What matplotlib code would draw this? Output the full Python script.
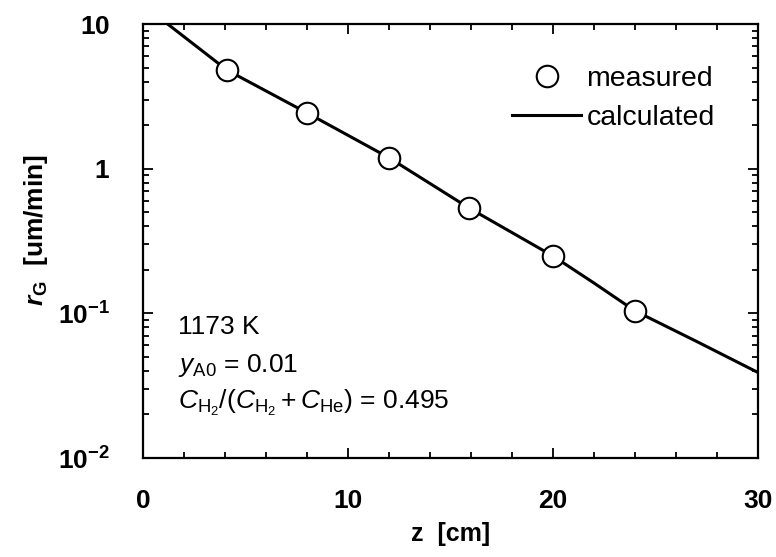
import matplotlib

matplotlib.use("Agg")
import matplotlib.pyplot as plt  # noqa: E402
from matplotlib.ticker import FixedLocator, FixedFormatter, LogLocator, NullFormatter, MultipleLocator  # noqa: E402

plt.rcParams["font.family"] = ["Liberation Sans", "DejaVu Sans"]
plt.rcParams["mathtext.fontset"] = "custom"
plt.rcParams["mathtext.rm"] = "Liberation Sans"
plt.rcParams["mathtext.it"] = "Liberation Sans:italic"
plt.rcParams["mathtext.bf"] = "Liberation Sans:bold"
plt.rcParams["mathtext.bfit"] = "Liberation Sans:bold:italic"

# measured growth rate along the reactor
z_meas = [4.1, 8.0, 12.0, 15.9, 20.0, 24.0]
rg_meas = [4.8, 2.43, 1.19, 0.535, 0.249, 0.104]

# calculated curve
z_calc = [1.2, 4.1, 8.0, 12.0, 15.9, 20.0, 22.0, 24.0, 27.0, 30.0]
rg_calc = [10.0, 4.8, 2.43, 1.19, 0.535, 0.249, 0.162, 0.104, 0.064, 0.039]

y_ticks = [0.01, 0.1, 1, 10]
y_ticklabels = [r"$\mathbf{10^{-2}}$", r"$\mathbf{10^{-1}}$", r"$\mathbf{1}$", r"$\mathbf{10}$"]
x_ticks = [0, 10, 20, 30]

fig = plt.figure(figsize=(7.76, 5.57), dpi=100)
ax = fig.add_axes([0.1843, 0.1777, 0.7925, 0.7792])

ax.plot(z_calc, rg_calc, color="black", lw=2.2, label="calculated", zorder=2)
ax.plot(z_meas, rg_meas, "o", ms=15.5, mfc="white", mec="black", mew=1.5,
        ls="none", label="measured", zorder=3)

ax.set_yscale("log")
ax.set_xlim(0, 30)
ax.set_ylim(0.01, 10)

ax.xaxis.set_major_locator(FixedLocator(x_ticks))
ax.xaxis.set_minor_locator(MultipleLocator(2))
ax.yaxis.set_major_locator(FixedLocator(y_ticks))
ax.yaxis.set_major_formatter(FixedFormatter(y_ticklabels))
ax.yaxis.set_minor_locator(LogLocator(base=10, subs=range(2, 10)))
ax.yaxis.set_minor_formatter(NullFormatter())

ax.tick_params(which="both", direction="in", top=True, right=True, width=1.3)
ax.tick_params(which="major", length=7)
ax.tick_params(which="minor", length=4)
ax.tick_params(axis="x", which="major", pad=22, labelsize=19)
ax.tick_params(axis="y", which="major", pad=24, labelsize=19)
for lab in ax.get_xticklabels():
    lab.set_fontweight("bold")
for sp in ax.spines.values():
    sp.set_linewidth(1.6)

ax.set_xlabel("z  [cm]", fontsize=18, fontweight="bold", labelpad=7)
ax.set_ylabel(r"$\mathbfit{r}_{\mathrm{\mathbf{G}}}$  $\mathbf{[um/min]}$", fontsize=19)
ax.yaxis.set_label_coords(-0.152, 0.525)

handles, labels = ax.get_legend_handles_labels()
ax.legend(handles[::-1], labels[::-1], loc="upper right", bbox_to_anchor=(0.948, 0.93),
          frameon=False, fontsize=20.5, handlelength=2.4, handletextpad=0.2,
          labelspacing=0.45, borderaxespad=0)

ax.text(0.057, 0.285, "1173 K", transform=ax.transAxes, fontsize=19)
ax.text(0.057, 0.199, r"$\mathit{y}_{\mathrm{A0}}$ = 0.01", transform=ax.transAxes, fontsize=19)
ax.text(0.057, 0.113,
        r"$\mathit{C}_{\mathrm{H_2}}/(\mathit{C}_{\mathrm{H_2}}+\mathit{C}_{\mathrm{He}})$ = 0.495",
        transform=ax.transAxes, fontsize=19)

fig.savefig("out.png", dpi=100)
